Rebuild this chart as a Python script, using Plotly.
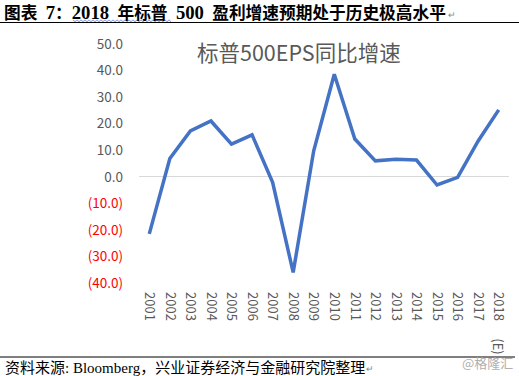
import plotly.graph_objects as go

years = ["2001", "2002", "2003", "2004", "2005", "2006", "2007", "2008", "2009",
         "2010", "2011", "2012", "2013", "2014", "2015", "2016", "2017", "2018"]
estimate_year = "2018"
estimate_mark = "(E)"
eps_growth = [-21.5, 6.9, 17.3, 21.0, 12.3, 15.8, -2.1, -36.0, 9.8,
              38.6, 14.2, 6.0, 6.6, 6.3, -3.1, -0.2, 13.5, 25.2]
y_ticks = [50, 40, 30, 20, 10, 0, -10, -20, -30, -40]

W, H = 519, 376
L, R, T, B = 139, 10, 44, 93
PW, PH = W - L - R, H - T - B


def px(x):
    return (x - L) / PW


def py(y):
    return (H - B - y) / PH


def ylab(v):
    if v < 0:
        return '<span style="color:#FF0000">(%.1f)</span>' % abs(v)
    return "%.1f" % v


def big(s):
    return '<span style="font-size:18.7px">%s</span>' % s


fig = go.Figure()
fig.add_trace(go.Scatter(
    x=years, y=eps_growth, mode="lines",
    line=dict(color="#4472C4", width=3.5),
    hoverinfo="skip", showlegend=False,
))

sans = "Noto Sans CJK SC, Noto Sans, sans-serif"
serif = "Liberation Serif, Noto Sans CJK SC, serif"
sp = "\u00a0\u00a0"
header = ("<b>图表" + sp + big("7") + "：" + big("2018") + sp + "年标普" + sp
          + big("500") + sp + "盈利增速预期处于历史极高水平</b>")

fig.update_layout(
    width=W, height=H,
    margin=dict(l=L, r=R, t=T, b=B, autoexpand=False),
    paper_bgcolor="white", plot_bgcolor="white",
    xaxis=dict(
        type="category", tickangle=90, showgrid=False, showline=False,
        ticks="", automargin=False, ticklabelstandoff=8,
        tickfont=dict(family=sans, size=13, color="#595959"),
        range=[-0.5, len(years) - 0.5],
    ),
    yaxis=dict(
        range=[-40, 50], tickvals=y_ticks, ticktext=[ylab(v) for v in y_ticks],
        showgrid=False, showline=False, ticks="", zeroline=True,
        zerolinecolor="#D9D9D9", zerolinewidth=1, automargin=False,
        ticklabelstandoff=15,
        tickfont=dict(family=sans, size=13.5, color="#595959"),
    ),
    annotations=[
        dict(text=header,
             x=px(2), y=py(12), xref="paper", yref="paper", xanchor="left",
             yanchor="middle", showarrow=False,
             font=dict(family=serif, size=16.7, color="black")),
        dict(text="↵", x=px(446), y=py(14), xref="paper", yref="paper",
             xanchor="left", yanchor="middle", showarrow=False,
             font=dict(family=sans, size=9, color="#888888")),
        dict(text="标普500EPS同比增速", x=px(299), y=py(51), xref="paper",
             yref="paper", xanchor="center", yanchor="middle", showarrow=False,
             font=dict(family=sans, size=21.5, color="#595959")),
        dict(text=estimate_mark, x=years.index(estimate_year), y=py(346),
             xref="x", yref="paper", xanchor="center", yanchor="middle",
             showarrow=False, textangle=90,
             font=dict(family=sans, size=13, color="#595959")),
        dict(text="资料来源: Bloomberg，兴业证券经济与金融研究院整理", x=px(3),
             y=py(367), xref="paper", yref="paper", xanchor="left",
             yanchor="middle", showarrow=False,
             font=dict(family=serif, size=15, color="black")),
        dict(text="↵", x=px(364), y=py(368), xref="paper", yref="paper",
             xanchor="left", yanchor="middle", showarrow=False,
             font=dict(family=sans, size=9, color="#888888")),
        dict(text="@格隆汇", x=px(515), y=py(362), xref="paper", yref="paper",
             xanchor="right", yanchor="middle", showarrow=False,
             font=dict(family=sans, size=13, color="#B0B0B0")),
    ],
    shapes=[
        dict(type="line", xref="paper", yref="paper", x0=px(0), x1=px(519),
             y0=py(22.5), y1=py(22.5), line=dict(color="black", width=1.2)),
        dict(type="line", xref="paper", yref="paper", x0=px(0), x1=px(515),
             y0=py(357), y1=py(357), line=dict(color="black", width=1.2)),
    ],
)

# wavy spell-check underline under "2018 年标普 500"
x0, x1, yb = 73, 172, 20.5
pts = []
xx = x0
k = 0
while xx <= x1:
    pts.append((px(xx), py(yb + (1.2 if k % 2 else -0.6))))
    xx += 2
    k += 1
path = "M " + " L ".join("%f,%f" % p for p in pts)
fig.add_shape(type="path", xref="paper", yref="paper", path=path,
              line=dict(color="#5B7FD6", width=0.8))

fig.write_html("out.html", config={"displayModeBar": False},
               post_script="document.body.style.margin='0';document.body.style.overflow='hidden';")
